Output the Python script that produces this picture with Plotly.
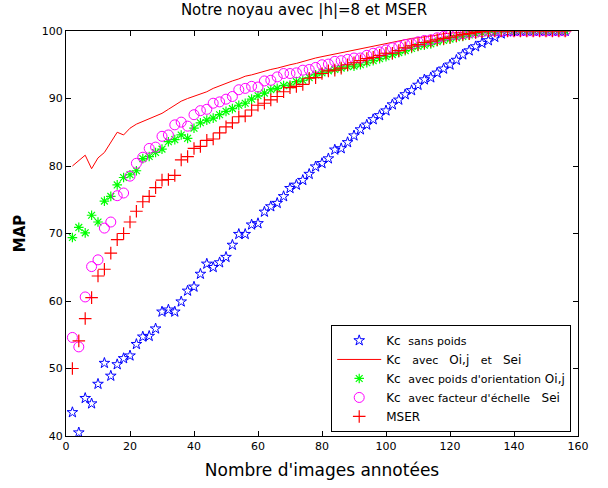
import plotly.graph_objects as go

x_vals = list(range(2, 158, 2))

kc_sans_poids = [43.5, 40.5, 45.6, 44.8, 47.7, 50.8, 48.9, 50.6, 51.5, 51.9,
                 53.6, 54.7, 54.8, 55.9, 58.4, 58.7, 58.4, 59.9, 61.5, 62.1,
                 64.0, 65.5, 65.0, 65.7, 66.5, 68.3, 69.9, 69.9, 71.3, 71.5,
                 73.2, 74.0, 74.5, 75.5, 76.7, 77.2, 77.9, 78.8, 79.9, 80.4,
                 81.1, 82.4, 82.6, 83.5, 84.5, 85.4, 86.1, 86.9, 87.5, 88.2,
                 89.1, 89.8, 90.6, 91.2, 92.0, 92.8, 93.1, 93.8, 94.4, 95.0,
                 95.7, 96.5, 97.1, 97.7, 98.2, 98.6, 99.1, 99.6, 99.9, 100,
                 100, 100, 100, 100, 100, 100, 100, 100]

kc_oi_sei = [80.0, 80.8, 81.6, 79.6, 81.2, 82.0, 83.5, 85.0, 84.6, 85.6,
             86.2, 86.6, 87.0, 87.4, 87.8, 88.4, 89.0, 89.6, 90.0, 90.3,
             90.6, 91.0, 91.5, 91.9, 92.3, 92.6, 92.9, 93.3, 93.5, 93.8,
             94.0, 94.3, 94.5, 94.8, 95.0, 95.2, 95.5, 95.8, 96.0, 96.2,
             96.4, 96.6, 96.7, 96.9, 97.1, 97.3, 97.5, 97.7, 97.9, 98.1,
             98.3, 98.5, 98.7, 98.9, 99.0, 99.1, 99.3, 99.4, 99.6, 99.7,
             99.8, 99.85, 99.9, 99.95, 100, 100, 100, 100, 100, 100,
             100, 100, 100, 100, 100, 100, 100, 100]

kc_orientation = [69.4, 70.9, 70.1, 72.7, 71.7, 74.8, 75.5, 77.2, 78.3, 78.7,
                  79.3, 81.1, 81.4, 82.0, 82.5, 83.6, 83.9, 84.6, 84.1, 85.6,
                  86.4, 86.8, 87.1, 87.6, 88.1, 88.5, 89.0, 89.3, 89.9, 90.4,
                  90.8, 91.3, 91.5, 91.9, 92.0, 92.5, 92.7, 93.1, 93.5, 93.8,
                  94.1, 94.3, 94.5, 94.7, 94.8, 95.0, 95.3, 95.6, 95.9, 96.2,
                  96.5, 96.8, 97.1, 97.4, 97.7, 97.9, 98.1, 98.4, 98.6, 98.8,
                  99.0, 99.2, 99.4, 99.6, 99.7, 99.8, 99.9, 100, 100, 100,
                  100, 100, 100, 100, 100, 100, 100, 100]

kc_echelle = [54.6, 53.2, 60.6, 65.1, 66.1, 70.8, 71.7, 75.6, 76.0, 78.5,
              80.4, 81.3, 82.6, 82.8, 84.4, 84.6, 86.1, 86.5, 85.9, 87.6,
              88.2, 88.4, 89.3, 89.5, 89.9, 90.3, 91.3, 91.5, 91.8, 91.7,
              92.6, 92.7, 93.2, 93.7, 93.7, 93.8, 94.2, 94.3, 94.6, 95.0,
              95.1, 95.5, 95.6, 95.8, 96.0, 96.0, 96.4, 96.7, 96.9, 97.2,
              97.5, 97.7, 98.0, 98.1, 98.4, 98.6, 98.7, 99.0, 99.2, 99.4,
              99.5, 99.6, 99.7, 99.8, 99.9, 100, 100, 100, 100, 100,
              100, 100, 100, 100, 100, 100, 100, 100]

mser = [50.0, 54.1, 57.4, 60.5, 63.7, 64.7, 67.1, 69.1, 70.0, 71.7,
        73.3, 74.7, 75.5, 76.8, 77.9, 78.0, 78.6, 80.9, 81.4, 82.6,
        82.9, 83.8, 84.0, 84.9, 85.8, 86.4, 87.3, 87.4, 88.3, 89.0,
        89.3, 89.8, 90.3, 91.0, 91.6, 91.8, 92.1, 93.0, 93.1, 93.7,
        94.1, 94.2, 94.5, 95.0, 95.3, 95.6, 95.9, 96.1, 96.4, 96.7,
        96.7, 97.1, 97.5, 97.8, 98.0, 98.3, 98.5, 98.7, 98.9, 99.1,
        99.3, 99.5, 99.6, 99.8, 99.9, 100, 100, 100, 100, 100,
        100, 100, 100, 100, 100, 100, 100, 100]

x_ticks = [0, 20, 40, 60, 80, 100, 120, 140, 160]
y_ticks = [40, 50, 60, 70, 80, 90, 100]

small = "<span style='font-size:11px'>"
names = [
    "Kc  " + small + "sans poids</span>",
    "Kc   " + small + "avec </span>  Oi,j   " + small + "et </span>  Sei",
    "Kc  " + small + "avec poids d'orientation</span> Oi,j",
    "Kc  " + small + "avec facteur d'échelle</span>   Sei",
    "MSER",
]

fig = go.Figure()
fig.add_trace(go.Scatter(x=x_vals, y=kc_sans_poids, mode="markers", name=names[0],
                         marker=dict(symbol="star-open", size=8, color="#0000ff",
                                     line=dict(width=1, color="#0000ff"))))
fig.add_trace(go.Scatter(x=x_vals, y=kc_oi_sei, mode="lines", name=names[1],
                         line=dict(color="#ff0000", width=1)))
fig.add_trace(go.Scatter(x=x_vals, y=kc_orientation, mode="markers", name=names[2],
                         marker=dict(symbol="asterisk-open", size=8, color="#00ff00",
                                     line=dict(width=1.2, color="#00ff00"))))
fig.add_trace(go.Scatter(x=x_vals, y=kc_echelle, mode="markers", name=names[3],
                         marker=dict(symbol="circle-open", size=10, color="#ff00ff",
                                     line=dict(width=1, color="#ff00ff"))))
fig.add_trace(go.Scatter(x=x_vals, y=mser, mode="markers", name=names[4],
                         marker=dict(symbol="cross-thin-open", size=9, color="#ff0000",
                                     line=dict(width=1.2, color="#ff0000"))))

axis_common = dict(showline=True, linecolor="black", linewidth=1, mirror="ticks",
                   ticks="inside", ticklen=5, tickcolor="black", showgrid=False,
                   zeroline=False, tickfont=dict(size=11, color="black"))

fig.update_layout(
    width=608, height=488,
    margin=dict(l=66, r=30, t=31, b=52),
    paper_bgcolor="white", plot_bgcolor="white",
    font=dict(family="DejaVu Sans", color="black"),
    title=dict(text="Notre noyau avec |h|=8 et MSER", x=0.5, xanchor="center",
               y=0.99, yanchor="top", font=dict(size=15)),
    xaxis=dict(range=[0, 160], tickvals=x_ticks,
               title=dict(text="Nombre d'images annotées", font=dict(size=17), standoff=11),
               **axis_common),
    yaxis=dict(range=[40, 100], tickvals=y_ticks,
               title=dict(text="<b>MAP</b>", font=dict(size=15), standoff=12),
               **axis_common),
    legend=dict(x=0.518, y=0.01, xanchor="left", yanchor="bottom",
                bgcolor="white", bordercolor="black", borderwidth=1,
                font=dict(size=12), tracegroupgap=0, itemwidth=44),
    showlegend=True,
)

fig.write_html("out.html")
